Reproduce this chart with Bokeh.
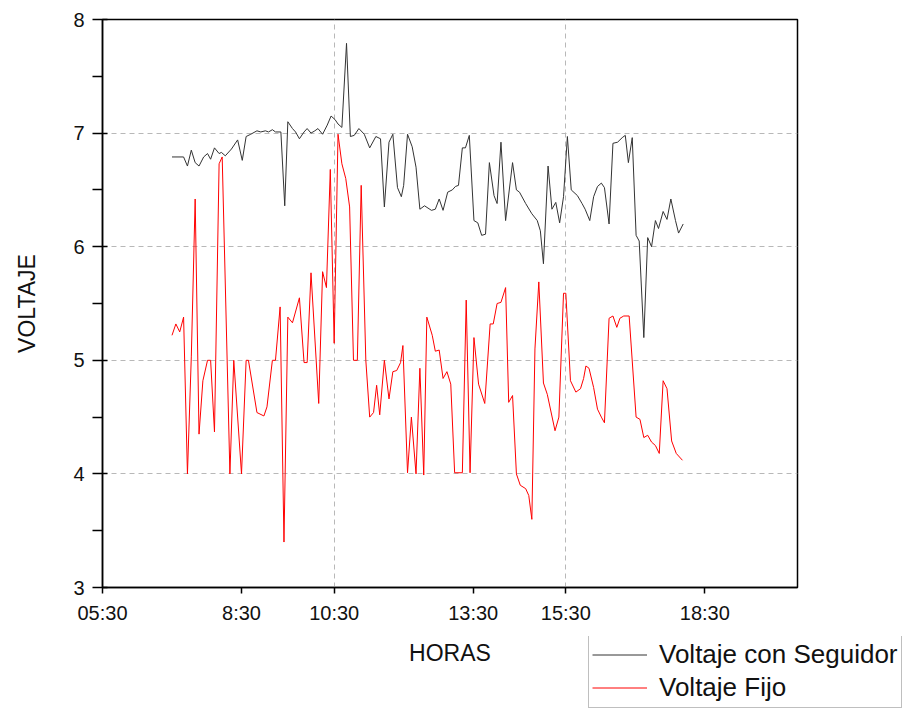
from bokeh.plotting import figure
from bokeh.layouts import column
from bokeh.models import (ColumnDataSource, FixedTicker, Legend, LegendItem,
                          Range1d)
from bokeh.core.properties import value
from bokeh.embed import file_html
from bokeh.resources import INLINE

# Voltaje con seguidor solar (hora, voltios)
seg_horas = ["07:00", "07:15", "07:20", "07:25", "07:30", "07:35", "07:41", "07:46",
             "07:50", "07:55", "08:01", "08:04", "08:09", "08:17", "08:25", "08:31",
             "08:36", "08:42", "08:50", "08:55", "09:01", "09:05", "09:10", "09:14",
             "09:21", "09:26", "09:30", "09:36", "09:40", "09:45", "09:51", "09:55",
             "10:00", "10:05", "10:09", "10:15", "10:21", "10:26", "10:31", "10:35",
             "10:40", "10:46", "10:51", "10:56", "11:02", "11:09", "11:16", "11:24",
             "11:30", "11:35", "11:41", "11:46", "11:52", "11:57", "12:00", "12:05",
             "12:11", "12:16", "12:21", "12:27", "12:36", "12:41", "12:46", "12:51",
             "12:57", "13:03", "13:07", "13:11", "13:16", "13:20", "13:25", "13:31",
             "13:36", "13:41", "13:46", "13:51", "13:57", "14:01", "14:06", "14:12",
             "14:21", "14:26", "14:30", "14:38", "14:46", "14:53", "14:57", "15:01",
             "15:07", "15:12", "15:17", "15:22", "15:27", "15:32", "15:37", "15:45",
             "15:51", "15:55", "16:01", "16:06", "16:11", "16:16", "16:20", "16:26",
             "16:31", "16:37", "16:43", "16:47", "16:51", "16:56", "17:01", "17:05",
             "17:11", "17:16", "17:21", "17:26", "17:30", "17:36", "17:41", "17:46",
             "17:52", "17:56", "18:02"]
seg_volt = [6.79, 6.79, 6.71, 6.85, 6.74, 6.71, 6.79, 6.82,
            6.77, 6.87, 6.82, 6.83, 6.80, 6.86, 6.94, 6.76,
            6.97, 6.99, 7.02, 7.01, 7.02, 7.01, 7.03, 7.01,
            7.01, 6.36, 7.10, 7.04, 7.01, 6.95, 7.01, 7.04,
            7.00, 7.02, 7.04, 6.99, 7.07, 7.15, 7.12, 7.08,
            7.05, 7.79, 6.97, 6.98, 7.04, 6.99, 6.87, 6.97,
            6.95, 6.35, 6.92, 6.99, 6.52, 6.44, 6.54, 6.99,
            6.88, 6.70, 6.33, 6.36, 6.32, 6.33, 6.42, 6.32,
            6.48, 6.50, 6.53, 6.54, 6.87, 6.87, 6.98, 6.23,
            6.21, 6.10, 6.11, 6.74, 6.45, 6.38, 6.92, 6.23,
            6.74, 6.50, 6.48, 6.38, 6.29, 6.23, 6.14, 5.85,
            6.71, 6.33, 6.39, 6.21, 6.44, 6.97, 6.50, 6.45,
            6.38, 6.33, 6.23, 6.44, 6.53, 6.56, 6.52, 6.20,
            6.91, 6.92, 6.96, 6.98, 6.74, 6.96, 6.10, 6.05,
            5.20, 6.08, 6.00, 6.23, 6.16, 6.31, 6.24, 6.42,
            6.23, 6.12, 6.20]

# Voltaje con panel fijo (hora, voltios)
fijo_horas = ["07:00", "07:05", "07:10", "07:15", "07:20", "07:25", "07:30", "07:35",
              "07:40", "07:46", "07:50", "07:55", "08:01", "08:05", "08:15", "08:20",
              "08:30", "08:36", "08:39", "08:50", "08:59", "09:03", "09:10", "09:14",
              "09:20", "09:25", "09:30", "09:36", "09:45", "09:51", "09:55", "10:00",
              "10:10", "10:15", "10:20", "10:25", "10:30", "10:35", "10:40", "10:45",
              "10:50", "10:55", "11:00", "11:05", "11:11", "11:16", "11:21", "11:25",
              "11:29", "11:35", "11:41", "11:46", "11:51", "11:56", "11:59", "12:05",
              "12:10", "12:16", "12:21", "12:26", "12:30", "12:37", "12:41", "12:46",
              "12:51", "12:56", "13:01", "13:06", "13:16", "13:21", "13:26", "13:31",
              "13:37", "13:45", "13:52", "13:56", "14:01", "14:06", "14:12", "14:16",
              "14:21", "14:26", "14:31", "14:38", "14:42", "14:46", "14:50", "14:55",
              "15:01", "15:06", "15:16", "15:21", "15:27", "15:30", "15:36", "15:43",
              "15:49", "15:53", "15:56", "16:00", "16:06", "16:11", "16:16", "16:20",
              "16:26", "16:31", "16:36", "16:40", "16:45", "16:52", "17:01", "17:06",
              "17:11", "17:16", "17:21", "17:26", "17:31", "17:36", "17:41", "17:47",
              "17:53", "18:01"]
fijo_volt = [5.22, 5.32, 5.25, 5.38, 4.00, 5.03, 6.42, 4.35,
             4.82, 5.00, 5.00, 4.37, 6.73, 6.79, 4.00, 5.00,
             4.00, 5.00, 5.00, 4.54, 4.51, 4.59, 5.00, 5.00,
             5.47, 3.40, 5.38, 5.33, 5.55, 4.98, 4.98, 5.77,
             4.62, 5.78, 5.64, 6.68, 5.15, 6.99, 6.73, 6.60,
             6.35, 5.00, 5.00, 6.54, 5.00, 4.50, 4.54, 4.78,
             4.52, 5.00, 4.66, 4.90, 4.91, 4.98, 5.13, 4.01,
             4.50, 4.00, 4.93, 3.99, 5.38, 5.22, 5.08, 5.09,
             4.84, 4.90, 4.79, 4.01, 4.01, 5.53, 4.01, 5.20,
             4.79, 4.62, 5.32, 5.32, 5.50, 5.51, 5.64, 4.63,
             4.69, 4.00, 3.90, 3.87, 3.81, 3.60, 5.10, 5.69,
             4.80, 4.70, 4.38, 4.50, 5.59, 5.59, 4.82, 4.72,
             4.75, 4.84, 4.95, 4.93, 4.76, 4.57, 4.50, 4.45,
             5.37, 5.39, 5.29, 5.37, 5.39, 5.39, 4.50, 4.48,
             4.32, 4.34, 4.28, 4.25, 4.18, 4.82, 4.75, 4.29,
             4.18, 4.12]

# Marcas del eje horizontal
tick_horas = [5.5, 8.5, 10.5, 13.5, 15.5, 18.5]
tick_etiquetas = ["05:30", "8:30", "10:30", "13:30", "15:30", "18:30"]

series_nombres = ["Voltaje con Seguidor", "Voltaje Fijo"]
series_colores = ["#333333", "#ff0000"]


def a_horas(hhmm):
    h, m = hhmm.split(":")
    return int(h) + int(m) / 60.0


src_seg = ColumnDataSource(dict(x=[a_horas(t) for t in seg_horas], y=seg_volt))
src_fijo = ColumnDataSource(dict(x=[a_horas(t) for t in fijo_horas], y=fijo_volt))

FONT = "Liberation Sans"
TXT = "#111111"
W = 906
H_TOP = 636
H_BOT = 75

# --- Gráfico principal ---
p = figure(width=W, height=H_TOP, output_backend="svg", toolbar_location=None,
           x_range=Range1d(5.5, 20.5), y_range=Range1d(3, 8),
           min_border_left=102, min_border_right=109,
           min_border_top=19, min_border_bottom=H_TOP - 587)

p.background_fill_color = "white"
p.border_fill_color = "white"
p.outline_line_color = "black"
p.outline_line_width = 1.5

p.line("x", "y", source=src_seg, line_color=series_colores[0], line_width=1)
p.line("x", "y", source=src_fijo, line_color=series_colores[1], line_width=1)

xa = p.xaxis[0]
xa.ticker = FixedTicker(ticks=tick_horas)
xa.major_label_overrides = {t: lab for t, lab in zip(tick_horas, tick_etiquetas)}
xa.major_tick_in = 0
xa.major_tick_out = 6
xa.major_label_standoff = 8
xa.minor_tick_line_color = None

ya = p.yaxis[0]
ya.ticker = FixedTicker(ticks=[3, 4, 5, 6, 7, 8],
                        minor_ticks=[3.5, 4.5, 5.5, 6.5, 7.5])
ya.axis_label = "VOLTAJE"
ya.major_tick_in = 5
ya.major_tick_out = 10
ya.minor_tick_in = 0
ya.minor_tick_out = 10
ya.minor_tick_line_color = "black"
ya.minor_tick_line_width = 1.5
ya.major_label_standoff = 8
ya.axis_label_standoff = 30
ya.axis_label_text_font = FONT
ya.axis_label_text_font_size = "23px"
ya.axis_label_text_font_style = "normal"
ya.axis_label_text_color = TXT

for ax in (xa, ya):
    ax.axis_line_color = "black"
    ax.axis_line_width = 1.5
    ax.major_tick_line_color = "black"
    ax.major_tick_line_width = 1.5
    ax.major_label_text_font = FONT
    ax.major_label_text_font_size = "20px"
    ax.major_label_text_color = TXT

# Rejilla punteada
p.xgrid.ticker = FixedTicker(ticks=[10.5, 15.5])
p.ygrid.ticker = FixedTicker(ticks=[4, 5, 6, 7])
for g in (p.xgrid, p.ygrid):
    g.grid_line_color = "#b8b8b8"
    g.grid_line_dash = "5 4"
    g.grid_line_width = 1

# --- Franja inferior: título del eje X y leyenda ---
q = figure(width=W, height=H_BOT, output_backend="svg", toolbar_location=None,
           x_range=Range1d(0, W), y_range=Range1d(0, H_BOT),
           x_axis_type=None, y_axis_type=None,
           min_border_left=0, min_border_right=0,
           min_border_top=0, min_border_bottom=0)
q.outline_line_color = None
q.grid.visible = False
q.background_fill_color = "white"
q.border_fill_color = "white"

# cada gráfico conserva su propio marco dentro de la columna
for fig in (p, q):
    if "frame_align" in fig.properties():
        fig.frame_align = False

q.text(x=[449.5], y=[H_BOT - 16], text=["HORAS"],
       text_font=value(FONT), text_font_size="23px", text_color=TXT,
       text_align="center", text_baseline="middle")

# renderers sin puntos visibles, sólo para las muestras de la leyenda
nan = float("nan")
muestras = []
for nombre, color in zip(series_nombres, series_colores):
    r = q.line(x=[nan, nan], y=[nan, nan], line_color=color, line_width=1)
    muestras.append(LegendItem(label=nombre, renderers=[r]))

legend = Legend(items=muestras, location=(588, 3))
legend.label_text_font = FONT
legend.label_text_font_size = "26px"
legend.label_text_color = TXT
legend.glyph_width = 55
legend.glyph_height = 33
legend.label_height = 33
legend.label_standoff = 12
legend.spacing = 0
legend.padding = 3
legend.margin = 0
legend.border_line_color = "#808080"
legend.border_line_width = 1
legend.background_fill_color = "white"
legend.background_fill_alpha = 1
q.add_layout(legend, "center")

layout = column(p, q, spacing=0)
open("out.html", "w").write(file_html(layout, INLINE))
